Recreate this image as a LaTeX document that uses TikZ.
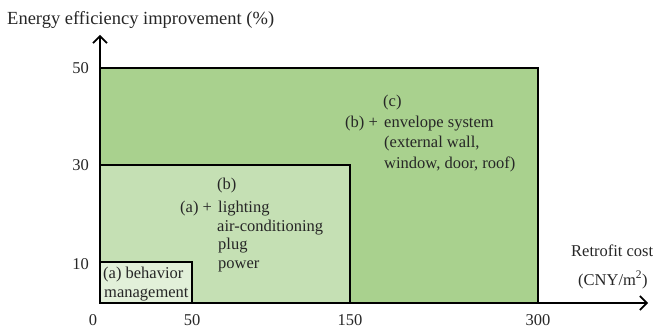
\documentclass[tikz,border=0pt]{standalone}
\usepackage{fontspec}
\setmainfont{Liberation Serif}
\usetikzlibrary{arrows.meta}
\definecolor{gdark}{HTML}{A9D18E}
\definecolor{gmid}{HTML}{C5E0B4}
\definecolor{glight}{HTML}{E2F0D9}
\tikzset{
  region/.style={draw=black, line width=1.2pt},
  axisline/.style={draw=black, line width=1.8pt, -{Straight Barb[length=7pt,width=14pt,line width=1.6pt]}},
  txt/.style={inner sep=0pt, anchor=base west, font=\fontsize{16.5}{19}\selectfont, text=black!85},
  tick/.style={inner sep=0pt, font=\fontsize{16.5}{19}\selectfont, text=black!85},
}
\begin{document}
\begin{tikzpicture}[x=1pt,y=-1pt]
\useasboundingbox (0,0) rectangle (662,334);
% regions
\filldraw[region, fill=gdark] (100,68) rectangle (538,303);
\filldraw[region, fill=gmid] (100,165) rectangle (350,303);
\filldraw[region, fill=glight] (100,262) rectangle (192,303);
% axes
\coordinate (O) at (100,303);
\coordinate (Ytop) at (100,35);
\coordinate (Xend) at (648,303);
\draw[axisline] (O) -- (Ytop);
\draw[axisline] (O) -- (Xend);
% axis titles
\node[txt, font=\fontsize{18.5}{21}\selectfont] (ytitle) at (7,25) {Energy efficiency improvement (\%)};
\node[txt] (xt1) at (571,256) {Retrofit cost};
\node[txt] (xt2) at (578,285) {(CNY/m\textsuperscript{2})};
% ticks
\node[tick, anchor=east] (y50) at (89,68) {50};
\node[tick, anchor=east] (y30) at (89,165) {30};
\node[tick, anchor=east] (y10) at (89,264) {10};
\node[tick] (x0) at (93,320) {0};
\node[tick] (x50) at (192,320) {50};
\node[tick] (x150) at (350,320) {150};
\node[tick] (x300) at (538,320) {300};
% region (c)
\node[txt] (c1) at (383,107) {(c)};
\node[txt] (c2a) at (345,127.5) {(b) +};
\node[txt] (c2) at (384,127.5) {envelope system};
\node[txt] (c3) at (384,148) {(external wall,};
\node[txt] (c4) at (384,168.5) {window, door, roof)};
% region (b)
\node[txt] (b1) at (217,190) {(b)};
\node[txt] (b2a) at (180,212.5) {(a) +};
\node[txt] (b2) at (218,212.5) {lighting};
\node[txt] (b3) at (217,231.5) {air-conditioning};
\node[txt] (b4) at (218,250) {plug};
\node[txt] (b5) at (218,268.5) {power};
% region (a)
\node[txt] (a1) at (103,279) {(a) behavior};
\node[txt] (a2) at (104,297) {management};
\end{tikzpicture}
\end{document}
